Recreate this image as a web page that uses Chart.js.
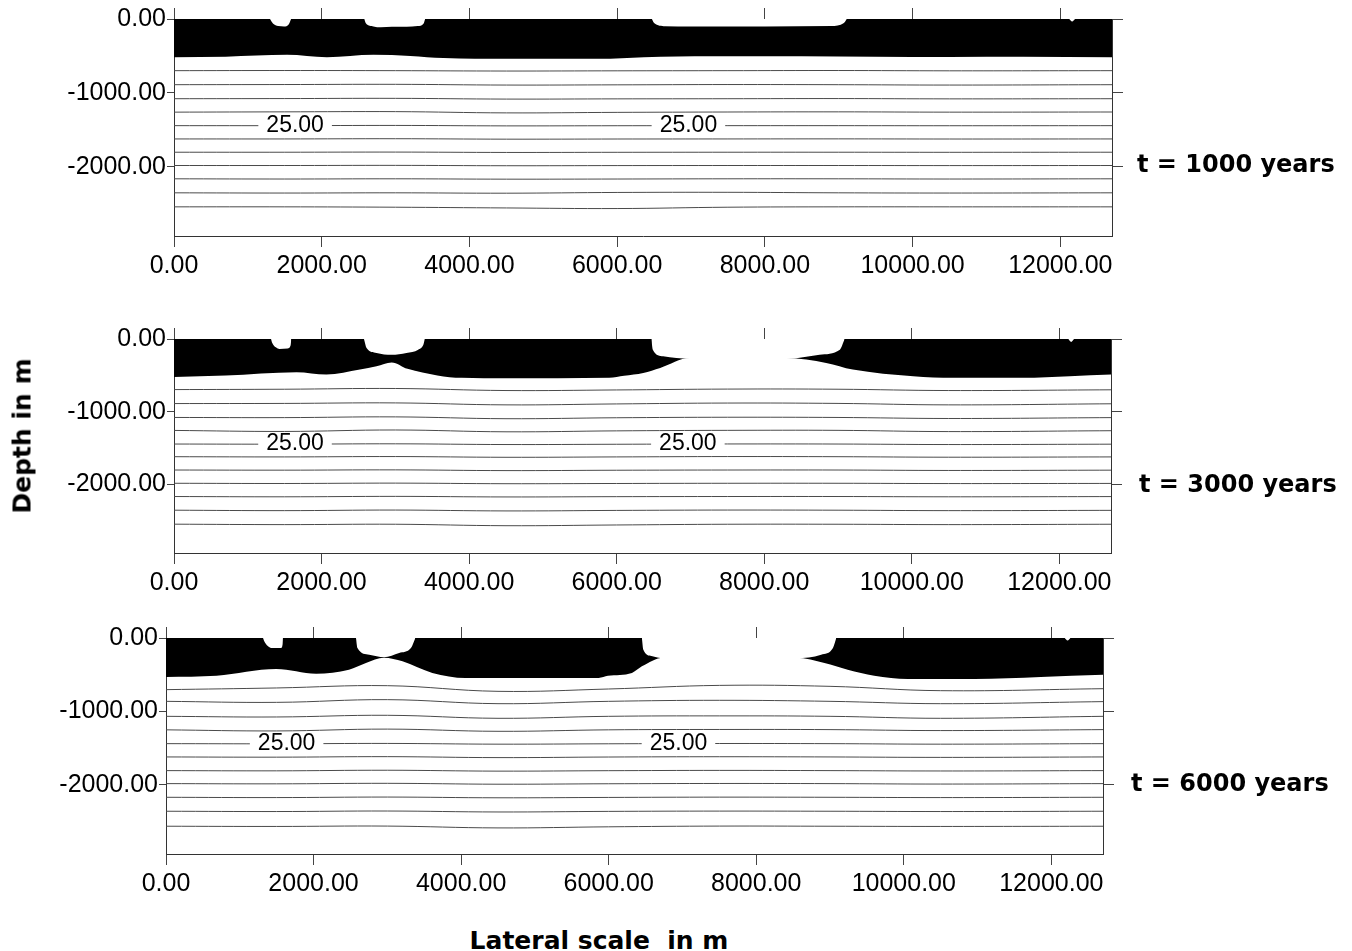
<!DOCTYPE html>
<html>
<head>
<meta charset="utf-8">
<script src="https://cdn.jsdelivr.net/npm/chart.js@4.4.1/dist/chart.umd.min.js"></script>
<style>
html,body{margin:0;padding:0;background:#fff;}
body{width:1352px;height:951px;position:relative;overflow:hidden;}
canvas{position:absolute;left:0;}
.bold{position:absolute;font-family:"DejaVu Sans",sans-serif;font-weight:bold;line-height:1;white-space:pre;color:#000;}
</style>
</head>
<body>
<canvas id="c0" width="1352" height="300" style="top:0px"></canvas>
<canvas id="c1" width="1352" height="300" style="top:300px"></canvas>
<canvas id="c2" width="1352" height="300" style="top:600px"></canvas>

<div class="bold" id="t0" style="left:1137px;top:164px;font-size:24px;transform:translateY(-50%);"></div>
<div class="bold" id="t1" style="left:1139px;top:484px;font-size:24px;transform:translateY(-50%);"></div>
<div class="bold" id="t2" style="left:1131px;top:783px;font-size:24px;transform:translateY(-50%);"></div>
<div class="bold" id="ytitle" style="left:22px;top:436px;font-size:25px;transform:translate(-50%,-50%) rotate(-90deg);"></div>
<div class="bold" id="xtitle" style="left:599px;top:940px;font-size:25px;transform:translate(-50%,-50%);"></div>

<script>
// ---------------- DATA ----------------
const panelLabels = ['t = 1000 years', 't = 3000 years', 't = 6000 years'];
const yAxisTitle = 'Depth in m';
const xAxisTitle = 'Lateral scale  in m';

const xTicks = [0, 2000, 4000, 6000, 8000, 10000, 12000];
const yTicks = [0, -1000, -2000];
const xMax = 12700;
const yMin = -2940;

// bottom boundary of the black surface layer (x in m, depth in m)
const layerX_t1000 = [0, 700, 1530, 2070, 2700, 3200, 3650, 4500, 5680, 6590, 7500, 8500, 9500, 10500, 11500, 12700];
const layerY_t1000 = [-518, -510, -486, -518, -486, -500, -530, -540, -540, -510, -505, -505, -512, -515, -512, -518];

const layerX_t3000 = [0, 700, 1660, 2065, 2520, 2745, 2950, 3165, 3570, 3900, 4500, 5900, 6100, 6360, 6590, 6990, 8300, 8840, 9200, 10020, 10560, 11500, 12140, 12700];
const layerY_t3000 = [-521, -503, -457, -489, -420, -375, -322, -410, -500, -534, -540, -534, -505, -466, -398, -262, -262, -329, -420, -512, -534, -534, -511, -489];

const layerX_t6000 = [0, 685, 1495, 2035, 2480, 2710, 2955, 3205, 3610, 4060, 5865, 5990, 6315, 6450, 6740, 8545, 8925, 9240, 9600, 10055, 10955, 11855, 12700];
const layerY_t6000 = [-530, -513, -422, -486, -431, -340, -268, -318, -476, -544, -544, -515, -476, -386, -268, -268, -340, -431, -513, -558, -558, -530, -500];

// white openings cutting into the black layer (x, depth)
const gaps_t1000 = [
  [[1300, 0], [1340, -60], [1410, -95], [1490, -100], [1555, -70], [1585, 0]],
  [[2575, 0], [2600, -60], [2700, -100], [2800, -112], [2950, -105], [3150, -105], [3300, -95], [3380, -60], [3400, 0]],
  [[6470, 0], [6500, -55], [6650, -98], [7000, -100], [8000, -100], [8900, -95], [9070, -55], [9110, 0]],
  [[12120, 0], [12160, -35], [12200, 0]]
];
const gaps_t3000 = [
  [[1315, 0], [1330, -50], [1380, -115], [1430, -137], [1540, -130], [1580, -90], [1590, 0]],
  [[2575, 0], [2610, -123], [2745, -192], [2950, -218], [3150, -192], [3310, -146], [3380, -78], [3400, 0]],
  [[6470, 0], [6490, -146], [6630, -238], [6990, -272], [8300, -272], [8750, -215], [9025, -146], [9090, 0]],
  [[12120, 0], [12160, -40], [12200, 0]]
];
const gaps_t6000 = [
  [[1315, 0], [1330, -40], [1380, -110], [1426, -136], [1561, -136], [1580, -90], [1585, 0]],
  [[2575, 0], [2595, -136], [2755, -228], [2955, -262], [3160, -204], [3320, -136], [3380, 0]],
  [[6450, 0], [6470, -159], [6580, -245], [6740, -275], [8545, -275], [8880, -227], [9040, -136], [9085, 0]],
  [[12180, 0], [12220, -35], [12260, 0]]
];

// isolines (depth at contourX positions)
const contourX = [0, 1500, 3000, 4500, 6000, 7500, 9000, 10500, 12700];
const contours_t1000 = [
  [-700, -698, -700, -705, -702, -700, -698, -702, -700],
  [-890, -888, -885, -895, -892, -888, -890, -895, -890],
  [-1080, -1078, -1075, -1085, -1082, -1080, -1078, -1082, -1080],
  [-1262, -1258, -1255, -1272, -1265, -1260, -1258, -1262, -1260],
  [-1445, -1445, -1442, -1448, -1446, -1445, -1445, -1446, -1445],
  [-1625, -1625, -1622, -1628, -1626, -1625, -1624, -1626, -1625],
  [-1805, -1805, -1803, -1808, -1806, -1805, -1805, -1806, -1805],
  [-1985, -1985, -1983, -1988, -1986, -1985, -1985, -1986, -1985],
  [-2165, -2168, -2165, -2170, -2168, -2165, -2165, -2168, -2165],
  [-2355, -2358, -2355, -2360, -2350, -2348, -2355, -2358, -2355],
  [-2545, -2545, -2550, -2560, -2568, -2550, -2545, -2545, -2545]
];
const contours_t3000 = [
  [-695, -690, -680, -708, -700, -688, -690, -708, -698],
  [-887, -885, -878, -905, -892, -880, -885, -905, -890],
  [-1078, -1080, -1070, -1095, -1082, -1075, -1078, -1092, -1080],
  [-1256, -1270, -1250, -1275, -1262, -1255, -1255, -1272, -1260],
  [-1443, -1445, -1440, -1450, -1446, -1442, -1443, -1450, -1445],
  [-1617, -1620, -1615, -1625, -1620, -1615, -1617, -1624, -1620],
  [-1800, -1802, -1798, -1808, -1803, -1800, -1800, -1806, -1802],
  [-1982, -1985, -1980, -1988, -1985, -1982, -1982, -1986, -1984],
  [-2164, -2168, -2162, -2170, -2166, -2164, -2164, -2168, -2165],
  [-2352, -2358, -2350, -2362, -2355, -2350, -2352, -2358, -2354],
  [-2544, -2550, -2545, -2565, -2555, -2545, -2545, -2550, -2545]
];
const contours_t6000 = [
  [-703, -680, -649, -726, -694, -645, -658, -717, -690],
  [-862, -876, -839, -894, -862, -848, -862, -894, -866],
  [-1066, -1075, -1052, -1093, -1066, -1060, -1066, -1093, -1066],
  [-1250, -1265, -1240, -1270, -1250, -1245, -1247, -1260, -1247],
  [-1438, -1440, -1435, -1445, -1440, -1436, -1438, -1445, -1438],
  [-1619, -1622, -1615, -1628, -1620, -1616, -1619, -1625, -1619],
  [-1805, -1808, -1800, -1812, -1806, -1802, -1805, -1810, -1805],
  [-1982, -1985, -1978, -1990, -1984, -1980, -1982, -1988, -1982],
  [-2168, -2172, -2165, -2175, -2170, -2166, -2168, -2172, -2168],
  [-2358, -2362, -2355, -2368, -2360, -2356, -2358, -2362, -2358],
  [-2562, -2565, -2560, -2585, -2570, -2560, -2562, -2565, -2562]
];

const contourLabelText = '25.00';
const labelX_t1000 = [1640, 6965];
const labelX_t3000 = [1640, 6965];
const labelX_t6000 = [1635, 6946];
const labelDepth_t1000 = -1445;
const labelDepth_t3000 = -1443;
const labelDepth_t6000 = -1438;

// ---------------- RENDERING ----------------
document.getElementById('t0').textContent = panelLabels[0];
document.getElementById('t1').textContent = panelLabels[1];
document.getElementById('t2').textContent = panelLabels[2];
document.getElementById('ytitle').textContent = yAxisTitle;
document.getElementById('xtitle').textContent = xAxisTitle;

const contourLabelPlugin = {
  id: 'contourLabels',
  afterDatasetsDraw(chart, args, opts) {
    const ctx = chart.ctx;
    const xs = chart.scales.x, ys = chart.scales.y;
    ctx.save();
    ctx.font = '23px "Liberation Sans"';
    ctx.textAlign = 'center';
    ctx.textBaseline = 'middle';
    opts.xs.forEach(v => {
      const px = xs.getPixelForValue(v);
      const py = ys.getPixelForValue(opts.depth);
      const w = ctx.measureText(opts.text).width;
      ctx.fillStyle = '#fff';
      ctx.fillRect(px - w / 2 - 8, py - 6, w + 16, 12);
      ctx.fillStyle = '#000';
      ctx.fillText(opts.text, px, py);
    });
    ctx.restore();
  }
};

const CANVAS_W = 1352, CANVAS_H = 300;
const TOP_TICK = 11;
const tickFont = { family: 'Liberation Sans', size: 25 };
const gridOpts = (len) => ({ display: true, drawOnChartArea: false, drawTicks: true, tickLength: len, color: '#444', lineWidth: 1 });
const borderOpts = { display: true, color: '#333', width: 1 };

function buildPanel(canvasId, box, layerX, layerY, gaps, contours, labelXs, labelDepth) {
  const datasets = [];
  contours.forEach(row => {
    datasets.push({
      data: row.map((y, i) => ({ x: contourX[i], y })),
      borderColor: '#4a4a4a', borderWidth: 1, pointRadius: 0, fill: false,
      tension: 0.4, order: 1
    });
  });
  gaps.forEach(g => {
    datasets.push({
      data: g.map(p => ({ x: p[0], y: p[1] })),
      borderWidth: 0, borderColor: 'rgba(0,0,0,0)', backgroundColor: '#fff',
      fill: 'origin', pointRadius: 0, cubicInterpolationMode: 'monotone', order: 2
    });
  });
  datasets.push({
    data: layerX.map((x, i) => ({ x, y: layerY[i] })),
    borderWidth: 0, borderColor: 'rgba(0,0,0,0)', backgroundColor: '#000',
    fill: 'origin', pointRadius: 0, cubicInterpolationMode: 'monotone', order: 3
  });

  const setX = s => { s.ticks = xTicks.map(v => ({ value: v })); };
  const setY = s => { s.ticks = yTicks.map(v => ({ value: v })); };

  return new Chart(document.getElementById(canvasId), {
    type: 'line',
    data: { datasets },
    plugins: [contourLabelPlugin],
    options: {
      responsive: false,
      animation: false,
      events: [],
      layout: { autoPadding: false, padding: { top: box.top - TOP_TICK, left: 0, right: 0, bottom: 0 } },
      plugins: {
        legend: { display: false },
        tooltip: { enabled: false },
        contourLabels: { xs: labelXs, depth: labelDepth, text: contourLabelText }
      },
      scales: {
        x: {
          type: 'linear', position: 'bottom', min: 0, max: xMax, z: 1,
          afterBuildTicks: setX,
          ticks: { callback: v => Number(v).toFixed(2), font: tickFont, color: '#000', padding: 4, maxRotation: 0, autoSkip: false },
          grid: gridOpts(11), border: borderOpts,
          afterFit: s => { s.height = CANVAS_H - box.bottom; s.paddingLeft = 0; s.paddingRight = 0; }
        },
        xTop: {
          type: 'linear', position: 'top', min: 0, max: xMax, z: 1,
          afterBuildTicks: setX,
          ticks: { display: false },
          grid: gridOpts(11), border: borderOpts,
          afterFit: s => { s.height = TOP_TICK; s.paddingLeft = 0; s.paddingRight = 0; }
        },
        y: {
          type: 'linear', position: 'left', min: yMin, max: 0, z: 1,
          afterBuildTicks: setY,
          ticks: { callback: v => Number(v).toFixed(2), font: tickFont, color: '#000', padding: 1 },
          grid: gridOpts(7), border: borderOpts,
          afterFit: s => { s.width = box.left; s.paddingTop = 0; s.paddingBottom = 0; }
        },
        yRight: {
          type: 'linear', position: 'right', min: yMin, max: 0, z: 1,
          afterBuildTicks: setY,
          ticks: { display: false },
          grid: gridOpts(11), border: borderOpts,
          afterFit: s => { s.width = CANVAS_W - box.right; s.paddingTop = 0; s.paddingBottom = 0; }
        }
      }
    }
  });
}

buildPanel('c0', { left: 174, right: 1112, top: 19, bottom: 236 }, layerX_t1000, layerY_t1000, gaps_t1000, contours_t1000, labelX_t1000, labelDepth_t1000);
buildPanel('c1', { left: 174, right: 1111, top: 39, bottom: 253 }, layerX_t3000, layerY_t3000, gaps_t3000, contours_t3000, labelX_t3000, labelDepth_t3000);
buildPanel('c2', { left: 166, right: 1103, top: 38, bottom: 254 }, layerX_t6000, layerY_t6000, gaps_t6000, contours_t6000, labelX_t6000, labelDepth_t6000);
</script>
</body>
</html>
